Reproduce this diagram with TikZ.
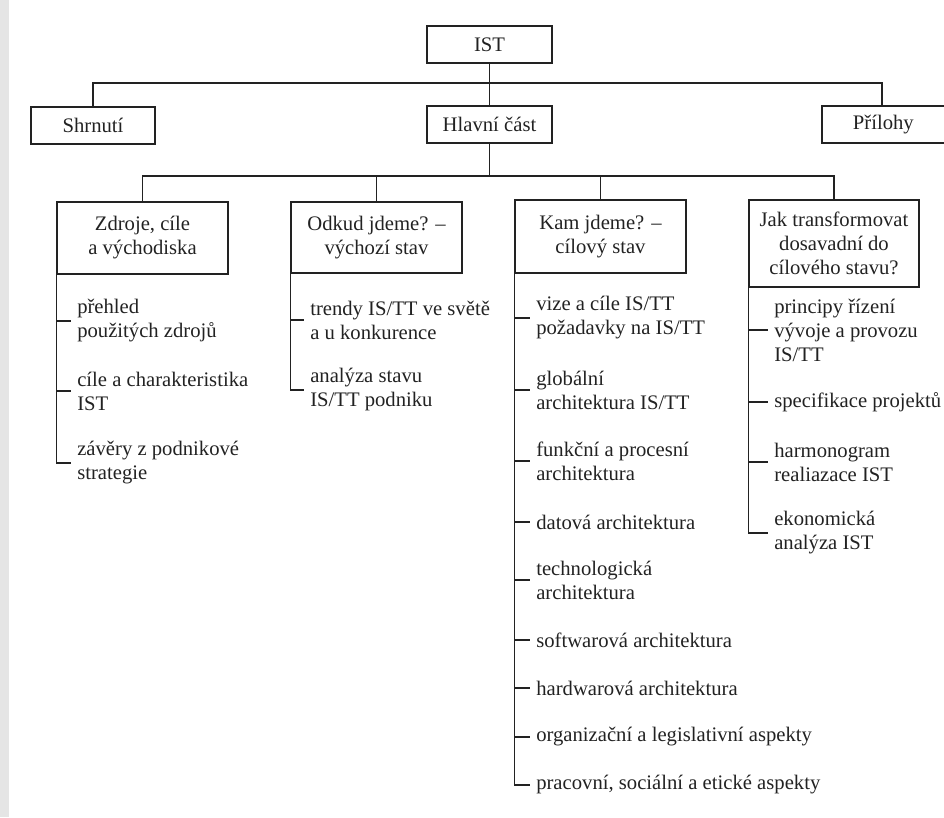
\documentclass[tikz,border=0pt]{standalone}
\usepackage{fontspec}
\setmainfont{Liberation Serif}
\definecolor{ink}{RGB}{34,34,34}
\begin{document}
\begin{tikzpicture}[x=0.75pt,y=-0.75pt,
  txt/.style={font=\fontsize{15.5}{18}\selectfont, text=ink},
  box/.style={txt, draw=ink, line width=1.1pt, align=center, inner sep=0pt},
  item/.style={txt, anchor=west, align=left, inner xsep=4.5pt, inner ysep=0pt},
  link/.style={draw=ink, line width=1.1pt}]
\useasboundingbox (0,0) rectangle (944,817);
\fill[black!10] (0,0) rectangle (9,817);
% top level
\node[box, minimum width=93.75pt, minimum height=27.75pt] (IST) at (489.5,44.5) {IST};
\node[box, minimum width=93pt, minimum height=27.75pt] (Sh) at (93,125.5) {Shrnutí};
\node[box, minimum width=93.75pt, minimum height=27.75pt] (Hl) at (489.5,124.5) {Hlavní část};
\node[box, minimum width=96pt, minimum height=27.75pt, text width=80pt, xshift=-0pt] (Pr) at (886,124.5) {\hspace*{-4pt}\centering Přílohy};
% second level
\node[box, minimum width=128.25pt, minimum height=54pt] (Zd) at (142.5,238) {Zdroje, cíle\\a východiska};
\node[box, minimum width=128.25pt, minimum height=53.25pt] (Od) at (376.5,237.5) {Odkud jdeme? –\\výchozí stav};
\node[box, minimum width=128.25pt, minimum height=54.75pt] (Kam) at (600.5,236.5) {Kam jdeme? –\\cílový stav};
\node[box, minimum width=127.5pt, minimum height=65.25pt] (Jak) at (834,243.5) {Jak transformovat\\dosavadní do\\cílového stavu?};
% connectors
\coordinate (b1) at (489.5,83);
\coordinate (b2) at (489.5,176);
\coordinate (pr1) at (882,106);
\draw[link] (IST.south) -- (Hl.north);
\draw[link] (Sh.north) |- (b1) -| (pr1);
\draw[link] (Hl.south) -- (b2);
\draw[link] (Zd.north) |- (b2) -| (Jak.north);
\draw[link] (Od.north) -- (Od.north |- b2);
\draw[link] (Kam.north) -- (Kam.north |- b2);
% Zdroje items
\node[item] (z1) at (71,321) {přehled\\použitých zdrojů};
\node[item] (z2) at (71,391) {cíle a charakteristika\\IST};
\node[item] (z3) at (71,463) {závěry z podnikové\\strategie};
\draw[link] (Zd.south west) |- (z3.west);
\foreach \n in {z1,z2} \draw[link] (\n.west -| Zd.south west) -- (\n.west);
% Odkud items
\node[item] (o1) at (304,320) {trendy IS/TT ve světě\\a u konkurence};
\node[item] (o2) at (304,390) {analýza stavu\\IS/TT podniku};
\draw[link] (Od.south west) |- (o2.west);
\draw[link] (o1.west -| Od.south west) -- (o1.west);
% Kam items
\node[item] (k1) at (530,318) {vize a cíle IS/TT\\požadavky na IS/TT};
\node[item] (k2) at (530,390) {globální\\architektura IS/TT};
\node[item] (k3) at (530,461) {funkční a procesní\\architektura};
\node[item] (k4) at (530,522) {datová architektura};
\node[item] (k5) at (530,580) {technologická\\architektura};
\node[item] (k6) at (530,640) {softwarová architektura};
\node[item] (k7) at (530,688) {hardwarová architektura};
\node[item] (k8) at (530,737) {organizační a legislativní aspekty};
\node[item] (k9) at (530,785) {pracovní, sociální a etické aspekty};
\draw[link] (Kam.south west) |- (k9.west);
\foreach \n in {k1,k2,k3,k4,k5,k6,k7,k8} \draw[link] (\n.west -| Kam.south west) -- (\n.west);
% Jak items
\node[item] (j1) at (768,330) {principy řízení\\vývoje a provozu\\IS/TT};
\node[item] (j2) at (768,402) {specifikace projektů};
\node[item] (j3) at (768,462) {harmonogram\\realiazace IST};
\node[item] (j4) at (768,533) {ekonomická\\analýza IST};
\draw[link] (Jak.south west) |- (j4.west);
\foreach \n in {j1,j2,j3} \draw[link] (\n.west -| Jak.south west) -- (\n.west);
\end{tikzpicture}
\end{document}
